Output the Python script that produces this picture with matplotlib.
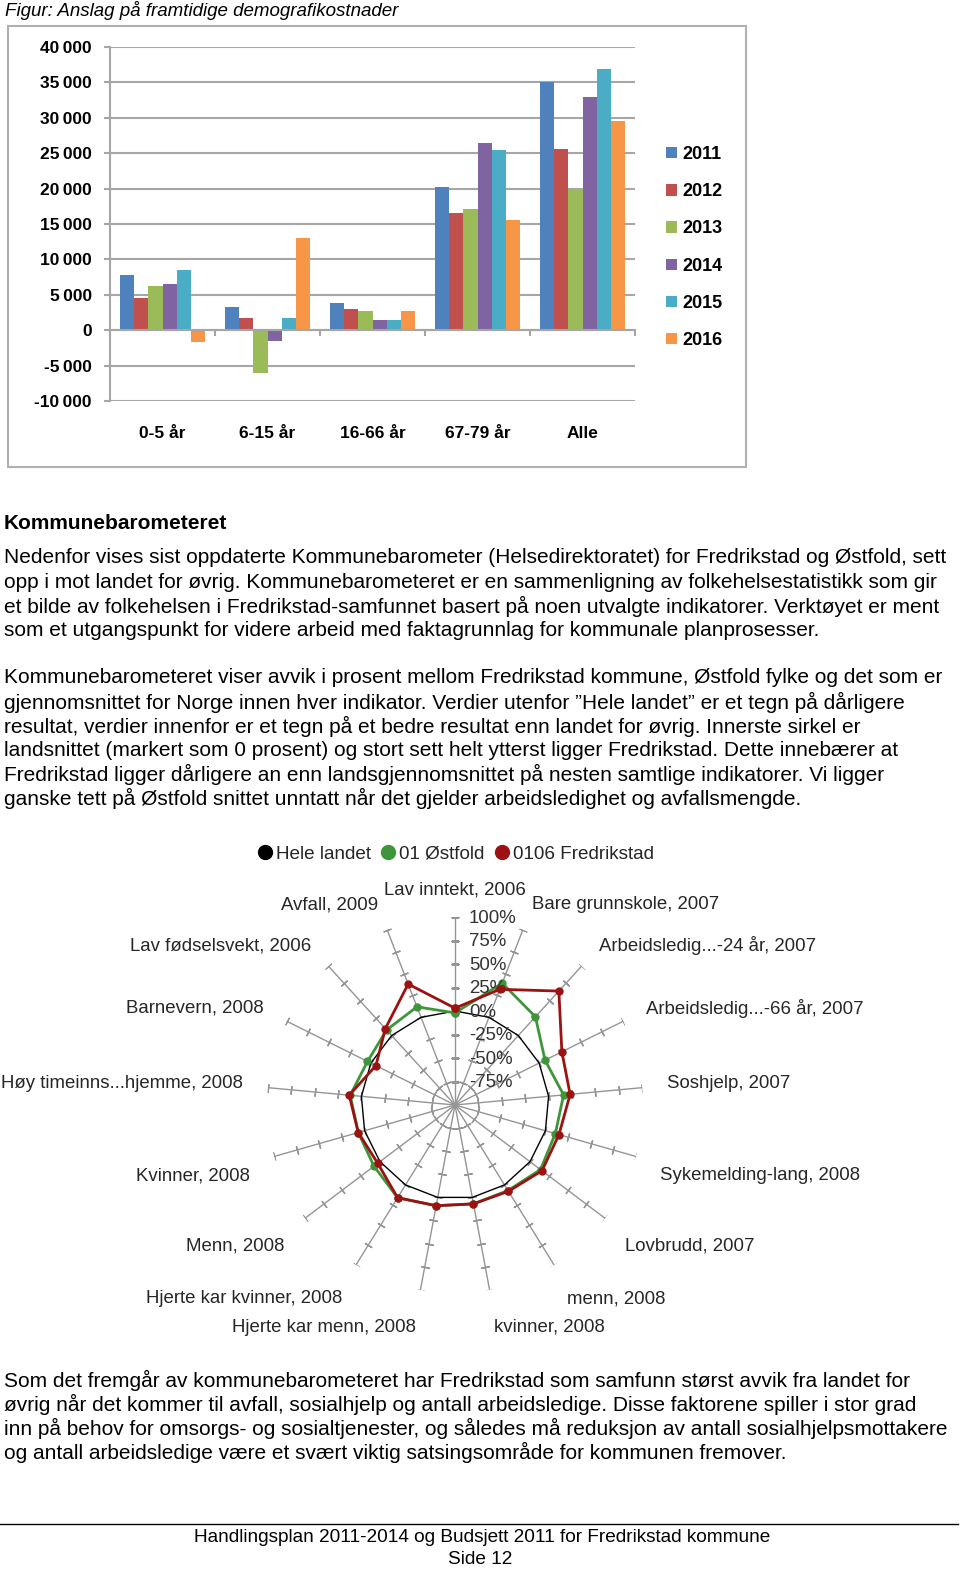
import matplotlib
matplotlib.use("Agg")
import matplotlib.pyplot as plt
import numpy as np
from matplotlib.lines import Line2D
from matplotlib.patches import Rectangle, Patch
from matplotlib.ticker import FuncFormatter

plt.rcParams['font.family'] = ['Liberation Sans', 'DejaVu Sans']

W, H = 960, 1569

# --- bar chart data ---
age_groups = ['0-5 år', '6-15 år', '16-66 år', '67-79 år', 'Alle']
years = ['2011', '2012', '2013', '2014', '2015', '2016']
v2011 = [7800, 3250, 3900, 20200, 35000]
v2012 = [4500, 1700, 3000, 16500, 25600]
v2013 = [6200, -6000, 2700, 17100, 20000]
v2014 = [6500, -1500, 1500, 26500, 33000]
v2015 = [8500, 1700, 1500, 25400, 36900]
v2016 = [-1700, 13000, 2700, 15600, 29500]
bar_colors = ['#4f81bd', '#c0504d', '#9bbb59', '#8064a2', '#4bacc6', '#f79646']

# --- radar data (clockwise from top) ---
indicators = ['Lav inntekt, 2006', 'Bare grunnskole, 2007', 'Arbeidsledig...-24 år, 2007',
              'Arbeidsledig...-66 år, 2007', 'Soshjelp, 2007', 'Sykemelding-lang, 2008',
              'Lovbrudd, 2007', 'menn, 2008', 'kvinner, 2008', 'Hjerte kar menn, 2008',
              'Hjerte kar kvinner, 2008', 'Menn, 2008', 'Kvinner, 2008',
              'Høy timeinns...hjemme, 2008', 'Barnevern, 2008', 'Lav fødselsvekt, 2006',
              'Avfall, 2009']
hele_landet = [0, 0, 0, 0, 0, 0, 0, 0, 0, 0, 0, 0, 0, 0, 0, 0, 0]
ostfold = [-2, 39, 27, 7, 16, 11, 14, 7, 7, 9, 16, 8, 7, 12, 4, 8, 12]
fredrikstad = [3, 32, 64, 27, 23, 15, 16, 8, 7, 9, 16, 3, 7, 13, -6, 10, 38]
radial_levels = [100, 75, 50, 25, 0, -25, -50, -75]

# --- page text ---
title = 'Figur: Anslag på framtidige demografikostnader'
heading = 'Kommunebarometeret'
para1 = ['Nedenfor vises sist oppdaterte Kommunebarometer (Helsedirektoratet) for Fredrikstad og Østfold, sett',
         'opp i mot landet for øvrig. Kommunebarometeret er en sammenligning av folkehelsestatistikk som gir',
         'et bilde av folkehelsen i Fredrikstad-samfunnet basert på noen utvalgte indikatorer. Verktøyet er ment',
         'som et utgangspunkt for videre arbeid med faktagrunnlag for kommunale planprosesser.']
para2 = ['Kommunebarometeret viser avvik i prosent mellom Fredrikstad kommune, Østfold fylke og det som er',
         'gjennomsnittet for Norge innen hver indikator. Verdier utenfor \u201dHele landet\u201d er et tegn på dårligere',
         'resultat, verdier innenfor er et tegn på et bedre resultat enn landet for øvrig. Innerste sirkel er',
         'landsnittet (markert som 0 prosent) og stort sett helt ytterst ligger Fredrikstad. Dette innebærer at',
         'Fredrikstad ligger dårligere an enn landsgjennomsnittet på nesten samtlige indikatorer. Vi ligger',
         'ganske tett på Østfold snittet unntatt når det gjelder arbeidsledighet og avfallsmengde.']
para3 = ['Som det fremgår av kommunebarometeret har Fredrikstad som samfunn størst avvik fra landet for',
         'øvrig når det kommer til avfall, sosialhjelp og antall arbeidsledige. Disse faktorene spiller i stor grad',
         'inn på behov for omsorgs- og sosialtjenester, og således må reduksjon av antall sosialhjelpsmottakere',
         'og antall arbeidsledige være et svært viktig satsingsområde for kommunen fremover.']
footer = ['Handlingsplan 2011-2014 og Budsjett 2011 for Fredrikstad kommune', 'Side 12']


def rect(x0, y0, x1, y1):
    return [x0 / W, 1 - y1 / H, (x1 - x0) / W, (y1 - y0) / H]


def ftext(x, y, s, **kw):
    fig.text(x / W, 1 - y / H, s, va='center', **kw)


fig = plt.figure(figsize=(W / 100, H / 100), dpi=100)

# page texts
ftext(5, 11, title, fontsize=13.5, style='italic')
ftext(4, 524, heading, fontsize=15, weight='bold')
for i, line in enumerate(para1):
    ftext(4, 558 + 24 * i, line, fontsize=15)
for i, line in enumerate(para2):
    ftext(4, 678 + 24 * i, line, fontsize=15)
for i, line in enumerate(para3):
    ftext(4, 1380 + 24 * i, line, fontsize=15)
fig.add_artist(Line2D([0, 958 / W], [1 - 1524 / H] * 2, color='black', lw=1))
ftext(482, 1537, footer[0], fontsize=13.7, ha='center')
ftext(480, 1559, footer[1], fontsize=13.7, ha='center')

# --- bar chart ---
fig.add_artist(Rectangle((8 / W, 1 - 467 / H), 738 / W, 441 / H, transform=fig.transFigure,
                         fill=False, edgecolor='#b0b0b0', lw=1.5))
ax = fig.add_axes(rect(110, 47, 635, 401))
series = [v2011, v2012, v2013, v2014, v2015, v2016]
x = np.arange(len(age_groups))
width = 0.135
for i, vals in enumerate(series):
    ax.bar(x + (i - 2.5) * width, vals, width, color=bar_colors[i], label=years[i], zorder=3)
ax.set_xlim(-0.5, 4.5)
ax.set_ylim(-10000, 40000)
ax.set_yticks(np.arange(-10000, 40001, 5000))
ax.yaxis.set_major_formatter(FuncFormatter(
    lambda v, p: ('-' if v < 0 else '') + '{:,}'.format(int(abs(v))).replace(',', '\u2009')))
ax.yaxis.grid(True, color='#a6a6a6', lw=1.5, zorder=0)
for s in ['top', 'right']:
    ax.spines[s].set_visible(False)
ax.spines['left'].set_color('#a6a6a6')
ax.spines['left'].set_linewidth(1.5)
ax.spines['bottom'].set_position(('data', 0))
ax.spines['bottom'].set_color('#a6a6a6')
ax.spines['bottom'].set_linewidth(1.5)
ax.spines['bottom'].set_zorder(4)
ax.set_xticks(np.arange(-0.5, 5, 1))
ax.set_xticklabels([])
ax.tick_params(axis='x', length=4, width=1.5, color='#a6a6a6')
ax.tick_params(axis='y', length=4, width=1.5, color='#a6a6a6', pad=9, labelsize=12.5)
for lab in ax.get_yticklabels():
    lab.set_fontweight('bold')
for i, name in enumerate(age_groups):
    ax.text(x[i], -0.092, name, transform=ax.get_xaxis_transform(), ha='center', va='center',
            fontsize=12.5, weight='bold')
handles = [Patch(facecolor=c) for c in bar_colors]
ax.legend(handles, years, loc='upper left', bbox_to_anchor=(666 / W, 1 - 146 / H),
          bbox_transform=fig.transFigure, frameon=False, handlelength=0.6, handleheight=0.6,
          handletextpad=0.3, borderpad=0, borderaxespad=0, labelspacing=1.12,
          prop={'weight': 'bold', 'size': 13})

# --- radar chart ---
R = 188
cx, cy = 455, 1105
rax = fig.add_axes(rect(cx - R, cy - R, cx + R, cy + R), projection='polar')
rax.set_theta_zero_location('N')
rax.set_theta_direction(-1)
rax.set_ylim(-100, 100)
rax.set_facecolor('none')
rax.grid(False)
rax.spines['polar'].set_visible(False)
rax.set_xticks([])
rax.set_yticks([])

n = len(indicators)
theta = np.arange(n) * 2 * np.pi / n
spoke_color = '#959595'
for k, t in enumerate(theta):
    rax.plot([t, t], [-100, 100], color=spoke_color, lw=1, zorder=1)
    ang = 90 - np.degrees(t)
    rax.plot([t] * 8, [-75, -50, -25, 0, 25, 50, 75, 100], linestyle='none',
             marker=(2, 2, ang), markersize=6, color=spoke_color, mew=1, zorder=1)
    s, c = np.sin(t), np.cos(t)
    ha = 'center' if abs(s) < 0.1 else ('left' if s > 0 else 'right')
    dy = -9 if c < 0 else 1
    rax.annotate(indicators[k], xy=(t, 127), xytext=(0, dy), textcoords='offset points',
                 ha=ha, va='center', fontsize=13.4, color='#262626', annotation_clip=False)

closed = np.append(theta, theta[0])
rax.plot(closed, hele_landet + hele_landet[:1], color='black', lw=1, zorder=2)
rax.plot(closed, ostfold + ostfold[:1], color='#3f963a', lw=2, marker='o', markersize=5,
         zorder=3)
rax.plot(closed, fredrikstad + fredrikstad[:1], color='#9c1212', lw=2, marker='o',
         markersize=5, zorder=4)

for lv in radial_levels:
    rax.annotate('{}%'.format(lv), xy=(0, lv), xytext=(10, -1), textcoords='offset points',
                 ha='left', va='center', fontsize=13.4, color='#333333')

leg_handles = [Line2D([], [], marker='o', linestyle='none', color=c, markersize=10)
               for c in ['black', '#3f963a', '#9c1212']]
rax.legend(leg_handles, ['Hele landet', '01 Østfold', '0106 Fredrikstad'], ncol=3,
           loc='center left', bbox_to_anchor=(257 / W, 1 - 854 / H),
           bbox_transform=fig.transFigure, frameon=False, handlelength=0.8,
           handletextpad=0.2, columnspacing=0.5, borderpad=0, borderaxespad=0,
           prop={'size': 13.6}, labelcolor='#262626')

fig.savefig('out.png', dpi=100)
